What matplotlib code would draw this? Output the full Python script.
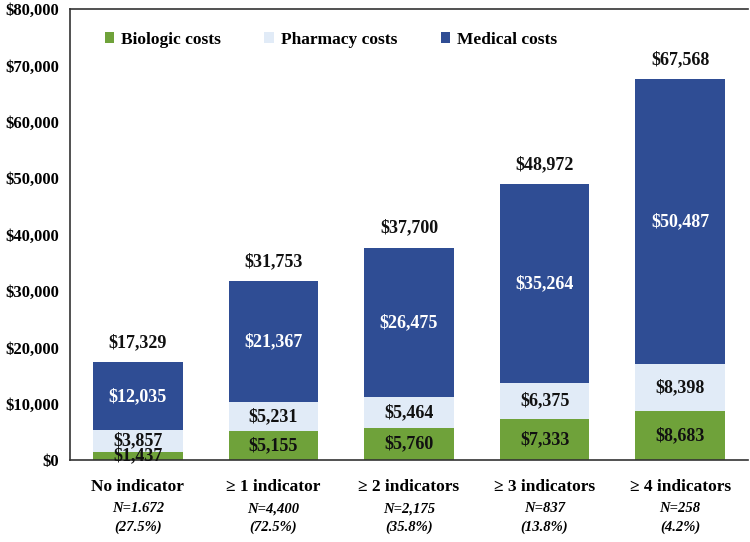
import matplotlib.pyplot as plt
import numpy as np
from matplotlib.ticker import FuncFormatter
from matplotlib.transforms import blended_transform_factory

plt.rcParams['font.family'] = ['Liberation Serif', 'DejaVu Serif']

categories = ["No indicator", "\u2265 1 indicator", "\u2265 2 indicators", "\u2265 3 indicators", "\u2265 4 indicators"]
n_labels = ["N=1.672", "N=4,400", "N=2,175", "N=837", "N=258"]
pct_labels = ["(27.5%)", "(72.5%)", "(35.8%)", "(13.8%)", "(4.2%)"]
biologic = [1437, 5155, 5760, 7333, 8683]
pharmacy = [3857, 5231, 5464, 6375, 8398]
medical = [12035, 21367, 26475, 35264, 50487]
totals = [17329, 31753, 37700, 48972, 67568]

c_bio = '#6fa23a'
c_pha = '#e1ebf7'
c_med = '#2f4d94'

fig = plt.figure(figsize=(7.5, 5.42), dpi=100)
ax = fig.add_axes([0.0933, 0.151, 0.904, 0.832])

x = np.arange(len(categories))
w = 0.66
bio = np.array(biologic)
pha = np.array(pharmacy)
med = np.array(medical)

ax.bar(x, bio, w, color=c_bio, label='Biologic costs')
ax.bar(x, pha, w, bottom=bio, color=c_pha, label='Pharmacy costs')
ax.bar(x, med, w, bottom=bio + pha, color=c_med, label='Medical costs')

for i in range(len(x)):
    ax.text(x[i], bio[i] / 2, f"${bio[i]:,}", ha='center', va='center',
            fontsize=13, fontweight='bold', color='#111111')
    ax.text(x[i], bio[i] + pha[i] / 2, f"${pha[i]:,}", ha='center', va='center',
            fontsize=13, fontweight='bold', color='#111111')
    ax.text(x[i], bio[i] + pha[i] + med[i] / 2, f"${med[i]:,}", ha='center', va='center',
            fontsize=13, fontweight='bold', color='white')
    ax.annotate(f"${totals[i]:,}", (x[i], totals[i]), xytext=(0, 8),
                textcoords='offset points', ha='center', va='bottom',
                fontsize=13, fontweight='bold', color='#111111')

ax.set_xlim(-0.5, len(x) - 0.5)
ax.set_ylim(0, 80000)
ax.set_yticks(np.arange(0, 80001, 10000))
ax.yaxis.set_major_formatter(FuncFormatter(lambda v, p: f"${int(v):,}"))
for lbl in ax.get_yticklabels():
    lbl.set_fontweight('bold')
    lbl.set_fontsize(12)
ax.tick_params(axis='y', length=0, pad=8)
ax.set_xticks([])

ax.spines['right'].set_visible(False)
for s in ['left', 'top', 'bottom']:
    ax.spines[s].set_color('#333333')
    ax.spines[s].set_linewidth(1.2)

# category labels below the axis
tr = blended_transform_factory(ax.transData, ax.transAxes)
for i in range(len(x)):
    ax.text(x[i], -0.059, categories[i], transform=tr, ha='center', va='center',
            fontsize=12.5, fontweight='bold')
    ax.text(x[i], -0.108, n_labels[i], transform=tr, ha='center', va='center',
            fontsize=10.5, fontweight='bold', style='italic')
    ax.text(x[i], -0.148, pct_labels[i], transform=tr, ha='center', va='center',
            fontsize=10.5, fontweight='bold', style='italic')

ax.legend(loc='upper left', bbox_to_anchor=(0.028, 0.985), ncol=3, frameon=False,
          prop={'weight': 'bold', 'size': 12.5}, handlelength=0.55, handleheight=0.55,
          handletextpad=0.4, columnspacing=2.5)

fig.savefig('out.png', dpi=100)
